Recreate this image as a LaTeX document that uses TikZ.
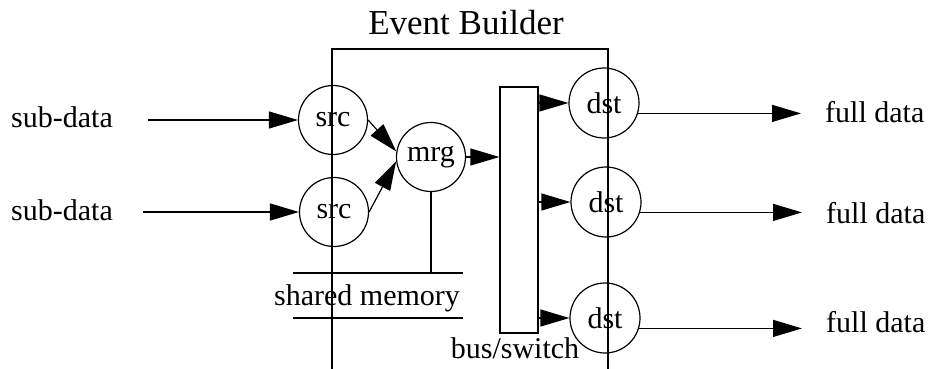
\documentclass[tikz,border=0pt]{standalone}
\usepackage{fontspec}
\setmainfont{Liberation Serif}
\usetikzlibrary{arrows.meta}
\begin{document}
\begin{tikzpicture}[x=1pt,y=-1pt,
  every node/.style={font=\fontsize{30}{33}\selectfont},
  proc/.style={circle,draw,line width=1.2pt,minimum size=69pt,inner sep=0pt},
  arr/.style={line width=1.2pt,-{Triangle[length=29pt,width=17pt]}},
  ln/.style={line width=1.2pt},
  lbl/.style={inner sep=0pt}]
\useasboundingbox (0,0) rectangle (929,369);

% frame of the event builder
\coordinate (fbl) at (332,369);
\coordinate (ftl) at (332,49);
\coordinate (ftr) at (608,49);
\coordinate (fbr) at (608,369);
\draw[ln] (fbl) -- (ftl) -- (ftr) -- (fbr);
\node[lbl,anchor=base,font=\fontsize{35}{40}\selectfont] (title) at (466,35) {Event Builder};

% sources
\node[proc] (src1) at (333,120) {src};
\node[proc] (src2) at (334,212) {src};
\node[proc] (mrg) at (431,157) {mrg};

% inputs
\node[lbl,anchor=base west] (in1) at (11,127) {sub-data};
\node[lbl,anchor=base west] (in2) at (11,220) {sub-data};
\coordinate (a1) at (148,120);
\coordinate (a2) at (143,212);
\draw[arr] (a1) -- (src1);
\draw[arr] (a2) -- (src2);
\draw[arr] (src1.east) -- (mrg.171);
\draw[arr] (src2.east) -- (mrg.187);

% shared memory
\coordinate (sm1) at (293,273);
\coordinate (sm2) at (463,273);
\coordinate (sm3) at (293,318);
\coordinate (sm4) at (463,318);
\draw[ln] (sm1) -- (sm2);
\draw[ln] (sm3) -- (sm4);
\node[lbl,anchor=base] (shm) at (367,305) {shared memory};
\draw[ln] (mrg.south) -- (mrg.south |- sm1);

% bus / switch
\node[draw,line width=1.2pt,minimum width=38pt,minimum height=246pt,inner sep=0pt] (bus) at (519,210) {};
\node[lbl,anchor=base] (buslbl) at (515,358) {bus/switch};
\draw[arr] (mrg) -- (mrg -| bus.west);

% destinations
\node[proc,minimum size=70pt] (dst1) at (604,103) {dst};
\node[proc,minimum size=70pt] (dst2) at (606,202) {dst};
\node[proc,minimum size=70pt] (dst3) at (605,318) {dst};
\draw[arr] (bus.east |- dst1) -- (dst1);
\draw[arr] (bus.east |- dst2) -- (dst2);
\draw[arr] (bus.east |- dst3) -- (dst3);

% outputs
\coordinate (o1) at (801,113);
\coordinate (o2) at (802,213);
\coordinate (o3) at (802,328);
\draw[arr] (dst1.-17) -- (dst1.-17 -| o1);
\draw[arr] (dst2.-17) -- (dst2.-17 -| o2);
\draw[arr] (dst3.-17) -- (dst3.-17 -| o3);
\node[lbl,anchor=base west] (out1) at (825,122) {full data};
\node[lbl,anchor=base west] (out2) at (826,223) {full data};
\node[lbl,anchor=base west] (out3) at (826,332) {full data};
\end{tikzpicture}
\end{document}
